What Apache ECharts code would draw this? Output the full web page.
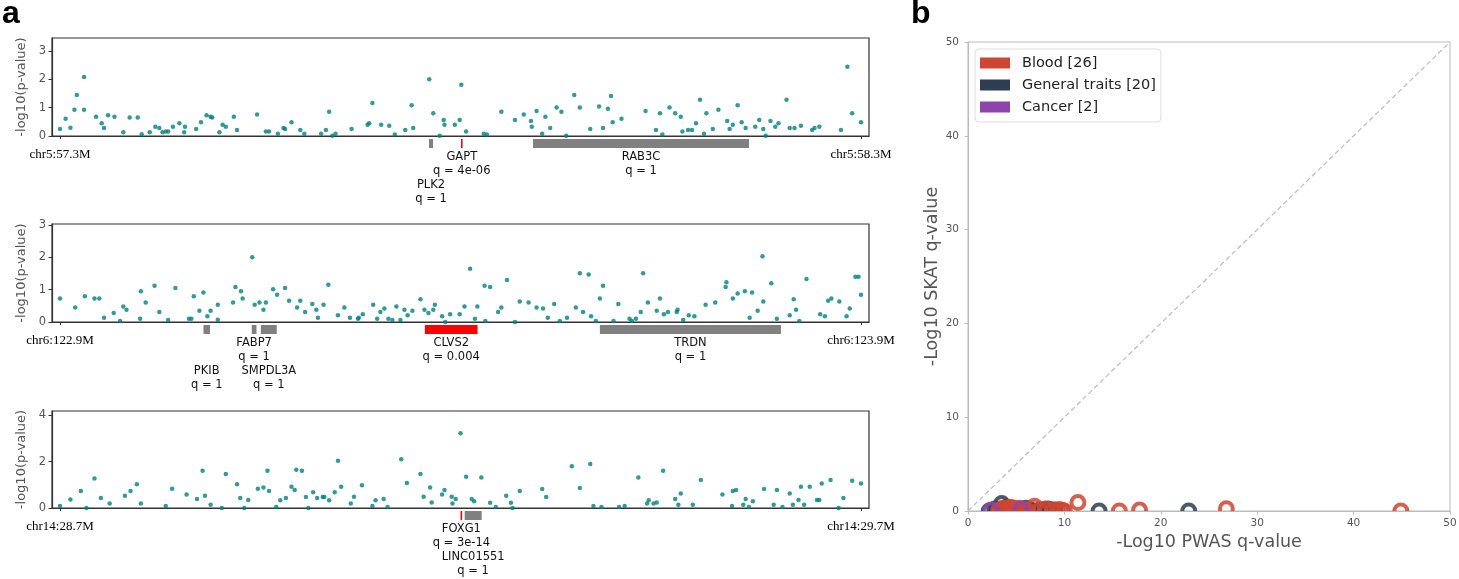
<!DOCTYPE html>
<html><head><meta charset="utf-8">
<script src="https://cdn.jsdelivr.net/npm/echarts@6/dist/echarts.min.js"></script>
<style>html,body{margin:0;padding:0;background:#fff}#c{width:1459px;height:579px}</style>
</head><body><div id="c"></div>
<script>
// ---------------- DATA ----------------
// Panel a: [genomic position (Mb), -log10(p)]
const chr5Points = [[57.300,0.25],[57.307,0.61],[57.313,0.29],[57.318,0.92],[57.321,1.44],[57.330,2.08],[57.330,0.92],[57.345,0.68],[57.352,0.45],[57.355,0.28],[57.360,0.73],[57.368,0.68],[57.379,0.13],[57.387,0.65],[57.397,0.65],[57.402,0.06],[57.412,0.13],[57.419,0.33],[57.424,0.28],[57.428,0.13],[57.432,0.16],[57.435,0.16],[57.441,0.33],[57.449,0.45],[57.455,0.13],[57.456,0.33],[57.470,0.25],[57.476,0.48],[57.483,0.73],[57.488,0.68],[57.490,0.65],[57.499,0.13],[57.503,0.40],[57.507,0.33],[57.517,0.68],[57.521,0.21],[57.546,0.76],[57.557,0.16],[57.561,0.16],[57.572,0.08],[57.579,0.28],[57.581,0.25],[57.589,0.48],[57.600,0.21],[57.605,0.08],[57.626,0.08],[57.632,0.21],[57.636,0.85],[57.640,0.01],[57.644,0.08],[57.664,0.25],[57.684,0.40],[57.686,0.45],[57.690,1.16],[57.701,0.40],[57.711,0.36],[57.718,0.05],[57.731,0.21],[57.739,1.08],[57.741,0.28],[57.761,2.00],[57.766,0.80],[57.774,0.01],[57.779,0.56],[57.780,0.40],[57.793,0.40],[57.799,0.56],
[57.801,1.80],[57.807,0.16],[57.829,0.08],[57.833,0.05],[57.851,0.85],[57.868,0.56],[57.879,0.76],[57.888,0.53],[57.889,0.33],[57.895,0.88],[57.902,0.08],[57.906,0.68],[57.912,0.28],[57.920,1.00],[57.926,0.85],[57.932,0.01],[57.942,1.44],[57.949,1.00],[57.962,0.25],[57.973,1.04],[57.978,0.28],[57.984,0.96],[57.988,1.41],[57.990,0.48],[58.001,0.61],[58.031,0.88],[58.044,0.21],[58.049,0.80],[58.052,0.05],[58.061,1.00],[58.068,0.80],[58.075,0.68],[58.077,0.16],[58.084,0.21],[58.089,0.21],[58.094,0.45],[58.099,1.28],[58.104,0.08],[58.107,0.80],[58.115,0.25],[58.122,0.92],[58.133,0.53],[58.136,0.25],[58.140,0.40],[58.146,1.08],[58.151,0.48],[58.156,0.28],[58.168,0.33],[58.173,0.56],[58.178,0.25],[58.181,0.01],[58.187,0.53],[58.193,0.33],[58.197,0.45],[58.207,1.28],[58.211,0.28],[58.217,0.28],[58.225,0.36],[58.239,0.21],[58.242,0.28],[58.248,0.33],[58.275,0.21],[58.283,2.44],[58.289,0.80],[58.300,0.48]];

const chr6Points = [[122.900,0.73],[122.919,0.45],[122.931,0.80],[122.943,0.73],[122.949,0.73],[122.955,0.13],[122.967,0.28],[122.975,0.03],[122.979,0.48],[122.983,0.38],[123.000,0.10],[123.001,0.95],[123.007,0.60],[123.018,1.12],[123.024,0.31],[123.035,0.06],[123.044,1.05],[123.061,0.10],[123.064,0.10],[123.067,0.80],[123.074,0.35],[123.079,0.91],[123.084,0.18],[123.088,0.35],[123.097,0.53],[123.097,0.07],[123.116,0.60],[123.119,1.08],[123.126,0.95],[123.128,0.73],[123.140,2.00],[123.143,0.53],[123.149,0.60],[123.154,0.38],[123.157,0.60],[123.166,1.01],[123.171,0.84],[123.181,1.05],[123.186,0.66],[123.196,0.45],[123.200,0.66],[123.206,0.31],[123.215,0.56],[123.220,0.38],[123.222,0.13],[123.229,0.53],[123.235,1.15],[123.247,0.21],[123.255,0.45],[123.262,0.13],[123.272,0.10],[123.273,0.13],[123.278,0.24],[123.291,0.53],[123.296,0.10],[123.300,0.31],[123.305,0.42],[123.310,0.10],[123.315,0.06],[123.320,0.48],[123.325,0.06],[123.330,0.38],[123.334,0.21],[123.340,0.35],[123.350,0.70],[123.355,0.38],[123.360,0.28],[123.366,0.38],[123.368,0.53],[123.377,0.18],[123.381,0.00],[123.387,0.24],[123.399,0.24],
[123.405,0.48],[123.412,1.65],[123.418,0.10],[123.421,0.48],[123.430,1.12],[123.431,0.03],[123.437,1.08],[123.447,0.31],[123.451,0.45],[123.458,1.30],[123.468,0.00],[123.474,0.63],[123.485,0.60],[123.495,0.45],[123.503,0.42],[123.509,0.13],[123.517,0.56],[123.524,0.03],[123.533,0.13],[123.544,0.45],[123.549,1.51],[123.553,0.31],[123.560,1.47],[123.563,0.18],[123.569,0.03],[123.574,0.73],[123.578,1.12],[123.591,0.03],[123.597,0.56],[123.611,0.10],[123.614,0.03],[123.619,0.10],[123.625,0.31],[123.628,1.51],[123.634,0.60],[123.645,0.35],[123.649,0.73],[123.654,0.24],[123.659,0.31],[123.670,0.31],[123.671,0.38],[123.678,0.06],[123.685,0.21],[123.692,0.18],[123.706,0.53],[123.718,0.60],[123.731,1.08],[123.732,1.23],[123.740,0.73],[123.746,0.88],[123.755,0.95],[123.761,0.13],[123.764,0.91],[123.771,0.35],[123.777,2.03],[123.778,0.63],[123.788,1.20],[123.795,0.10],[123.811,0.21],[123.816,0.70],[123.819,0.38],[123.823,0.03],[123.832,1.33],[123.849,0.24],[123.855,0.18],[123.859,0.66],[123.863,0.73],[123.873,0.63],[123.882,0.18],[123.886,0.42],[123.893,1.40],[123.897,1.40],[123.900,0.84]];

const chr14Points = [[28.700,0.09],[28.713,0.37],[28.726,0.73],[28.733,0.00],[28.743,1.27],[28.751,0.43],[28.762,0.19],[28.781,0.53],[28.788,0.73],[28.796,1.02],[28.801,0.19],[28.832,0.09],[28.840,0.83],[28.858,0.58],[28.871,0.39],[28.878,1.61],[28.881,0.53],[28.888,0.14],[28.902,0.00],[28.907,1.47],[28.921,1.02],[28.925,0.43],[28.930,0.00],[28.935,0.35],[28.947,0.83],[28.954,0.88],[28.959,1.61],[28.961,0.73],[28.970,0.04],[28.975,0.33],[28.982,0.43],[28.989,0.92],[28.993,0.78],[28.995,1.65],[29.002,1.61],[29.007,0.47],[29.010,0.00],[29.016,0.68],[29.021,0.43],[29.028,0.47],[29.030,0.47],[29.036,0.33],[29.043,0.68],[29.047,2.04],[29.051,0.92],[29.063,0.19],[29.067,0.49],[29.077,0.98],[29.090,0.09],[29.094,0.33],[29.104,0.39],[29.109,0.04],[29.126,2.10],[29.133,1.08],[29.150,1.47],[29.154,0.49],[29.162,0.88],[29.164,0.24],[29.177,0.58],[29.180,0.78],[29.189,0.49],[29.190,0.19],[29.194,0.39],
[29.200,3.22],[29.207,1.35],[29.214,0.39],[29.217,0.29],[29.226,1.31],[29.237,0.23],[29.244,0.04],[29.257,0.53],[29.263,0.23],[29.265,0.00],[29.274,0.73],[29.302,0.82],[29.307,0.47],[29.339,1.80],[29.349,0.86],[29.362,1.90],[29.366,0.09],[29.376,0.04],[29.398,0.04],[29.405,0.09],[29.422,1.31],[29.433,0.19],[29.435,0.33],[29.441,0.19],[29.445,0.24],[29.453,1.60],[29.468,0.39],[29.472,0.14],[29.475,0.63],[29.490,0.14],[29.500,1.21],[29.527,0.58],[29.539,0.09],[29.540,0.73],[29.544,0.78],[29.553,0.14],[29.556,0.39],[29.560,0.04],[29.565,0.29],[29.579,0.82],[29.591,0.14],[29.595,0.78],[29.602,0.04],[29.611,0.63],[29.615,0.14],[29.622,0.35],[29.625,0.92],[29.629,0.14],[29.636,0.92],[29.645,0.35],[29.648,0.35],[29.651,1.06],[29.662,1.21],[29.672,0.00],[29.678,0.43],[29.689,1.17],[29.700,1.06]];

// genes: start/end in Mb, q-value
const chr5Genes = [
  {name:'PLK2', start:57.7607, end:57.7657, q:1},
  {name:'GAPT', start:57.8010, end:57.8022, q:4e-6},
  {name:'RAB3C', start:57.8905, end:58.1602, q:1}
];
const chr6Genes = [
  {name:'PKIB', start:123.0791, end:123.0873, q:1},
  {name:'FABP7', start:123.1394, end:123.1453, q:1},
  {name:'SMPDL3A', start:123.1507, end:123.1706, q:1},
  {name:'CLVS2', start:123.3555, end:123.4213, q:0.004},
  {name:'TRDN', start:123.5740, end:123.8001, q:1}
];
const chr14Genes = [
  {name:'FOXG1', start:29.2002, end:29.2019, q:3e-14},
  {name:'LINC01551', start:29.2052, end:29.2264, q:1}
];

const chr5XTicks = [57.3, 58.3], chr5XLabels = ['chr5:57.3M', 'chr5:58.3M'];
const chr6XTicks = [122.9, 123.9], chr6XLabels = ['chr6:122.9M', 'chr6:123.9M'];
const chr14XTicks = [28.7, 29.7], chr14XLabels = ['chr14:28.7M', 'chr14:29.7M'];
const chr5YTicks = [0, 1, 2, 3];
const chr6YTicks = [0, 1, 2, 3];
const chr14YTicks = [0, 2, 4];

// Panel b: [-log10 PWAS q, -log10 SKAT q]
const bloodPts = [[3.2,0.1],[3.4,0.0],[3.6,0.3],[3.9,0.2],[4.1,0.0],[4.3,0.4],[4.5,0.1],[4.6,0.35],[4.8,0.2],[5.0,0.0],[5.3,0.3],[5.8,0.1],[6.2,0.0],[6.9,0.5],[7.4,0.1],[8.0,0.2],[8.8,0.1],[9.2,0.0],[9.5,0.15],[9.8,0.05],[10.0,0.0],[11.4,0.9],[15.7,0.0],[17.8,0.1],[26.8,0.25],[44.9,0.0]];
const generalPts = [[2.2,0.0],[2.8,0.2],[3.0,0.0],[3.5,0.8],[3.8,0.1],[4.0,0.4],[4.2,0.0],[4.7,0.05],[5.1,0.2],[5.5,0.0],[5.9,0.0],[6.0,0.3],[6.5,0.1],[7.2,0.0],[7.8,0.1],[8.3,0.2],[8.6,0.0],[9.0,0.1],[13.6,0.0],[22.9,0.0]];
const cancerPts = [[2.4,0.1],[5.5,0.2]];
const diagonal = [[0,0],[50,50]];

// ---------------- STYLE / LAYOUT ----------------
const labelRow = {PLK2:1, PKIB:1, SMPDL3A:1, LINC01551:1};
const colBlood = '#cf4533', colGeneral = '#2c3e50', colCancer = '#8e44ad';

function fmtQ(q){
  if (q >= 0.001) return String(q);
  const parts = q.toExponential(0).split('e');
  const n = parseInt(parts[1], 10);
  return parts[0] + 'e' + (n < 0 ? '-' : '+') + String(Math.abs(n)).padStart(2, '0');
}
function nearestLabel(v, ticks, labels){
  let bi = 0;
  ticks.forEach((t, i) => { if (Math.abs(t - v) < Math.abs(ticks[bi] - v)) bi = i; });
  return labels[bi];
}

const grids = [
  {left:52, top:38, width:817, height:98},
  {left:52, top:224, width:817, height:98},
  {left:52, top:411, width:817, height:97}
];
const regions = [
  {pts:chr5Points, genes:chr5Genes, xt:chr5XTicks, xl:chr5XLabels, yt:chr5YTicks, xmin:57.29, xmax:58.31, ymax:3.45},
  {pts:chr6Points, genes:chr6Genes, xt:chr6XTicks, xl:chr6XLabels, yt:chr6YTicks, xmin:122.89, xmax:123.91, ymax:3.03},
  {pts:chr14Points, genes:chr14Genes, xt:chr14XTicks, xl:chr14XLabels, yt:chr14YTicks, xmin:28.69, xmax:29.71, ymax:4.18}
];

const gridOpt = [], xAxes = [], yAxes = [], series = [];
regions.forEach((r, i) => {
  gridOpt.push(Object.assign({show:true, borderColor:'#333', borderWidth:1.2, backgroundColor:'#fff', outerBoundsMode:'none', containLabel:false}, grids[i]));
  xAxes.push({gridIndex:i, type:'value', min:r.xmin, max:r.xmax,
    axisLine:{show:true, onZero:false, lineStyle:{color:'#333', width:1.2}},
    axisTick:{show:true, customValues:r.xt, length:3, lineStyle:{color:'#333'}},
    axisLabel:{show:true, customValues:r.xt, margin:12, fontFamily:'Liberation Serif', fontSize:13, color:'#000',
      formatter:(v) => nearestLabel(v, r.xt, r.xl)},
    splitLine:{show:false}});
  yAxes.push({gridIndex:i, type:'value', min:0, max:r.ymax,
    name:'-log10(p-value)', nameLocation:'middle', nameGap:21,
    nameTextStyle:{fontFamily:'DejaVu Sans', fontSize:13, color:'#555'},
    axisLine:{show:true, lineStyle:{color:'#333', width:1.2}},
    axisTick:{show:true, customValues:r.yt, length:3.5, lineStyle:{color:'#333'}},
    axisLabel:{show:true, customValues:r.yt, margin:6, fontFamily:'DejaVu Sans', fontSize:11.5, color:'#555',
      formatter:(v) => (Math.abs(v - Math.round(v)) < 1e-6 ? String(Math.round(v)) : '')},
    splitLine:{show:false}});
  series.push({type:'scatter', xAxisIndex:i, yAxisIndex:i, data:r.pts, symbolSize:4.5, silent:true,
    itemStyle:{color:'#008080'}, z:2});
  const genes = r.genes;
  series.push({type:'custom', xAxisIndex:i, yAxisIndex:i, clip:false, silent:true, z:3,
    data: genes.map(g => [g.start, g.end, g.q]),
    renderItem(params, api){
      const g = genes[params.dataIndex];
      const a = api.coord([api.value(0), 0]);
      const b = api.coord([api.value(1), 0]);
      let x = a[0], w = b[0] - a[0];
      if (w < 1.6) { x = (a[0] + b[0]) / 2 - 0.8; w = 1.6; }
      const sig = g.q < 0.05;
      const row = labelRow[g.name] || 0;
      const cx = (a[0] + b[0]) / 2;
      return {type:'group', children:[
        {type:'rect', shape:{x:x, y:a[1] + 3, width:w, height:9}, style:{fill: sig ? '#ff0000' : '#808080'}},
        {type:'text', style:{text:g.name + '\nq = ' + fmtQ(g.q), x:cx, y:a[1] + 28 + row * 28,
          align:'center', verticalAlign:'middle', textAlign:'center', textVerticalAlign:'middle',
          fontFamily:'DejaVu Sans', fontSize:11.5, lineHeight:14, fill:'#111'}}
      ]};
    }});
});

// Panel b
gridOpt.push({left:968, top:42, width:482, height:469, show:true, borderColor:'#bbb', borderWidth:1, outerBoundsMode:'none', containLabel:false});
xAxes.push({gridIndex:3, type:'value', min:0, max:50, interval:10, z:10,
  name:'-Log10 PWAS q-value', nameLocation:'middle', nameGap:19,
  nameTextStyle:{fontFamily:'DejaVu Sans', fontSize:17.5, color:'#555'},
  axisLine:{show:true, onZero:false, lineStyle:{color:'#bbb', width:1.2}},
  axisTick:{show:true, length:3.5, lineStyle:{color:'#bbb'}},
  axisLabel:{margin:7, fontFamily:'DejaVu Sans', fontSize:10.5, color:'#555'},
  splitLine:{show:false}});
yAxes.push({gridIndex:3, type:'value', min:0, max:50, interval:10, z:10,
  name:'-Log10 SKAT q-value', nameLocation:'middle', nameGap:25,
  nameTextStyle:{fontFamily:'DejaVu Sans', fontSize:17.5, color:'#555'},
  axisLine:{show:true, onZero:false, lineStyle:{color:'#bbb', width:1.2}},
  axisTick:{show:true, length:3.5, lineStyle:{color:'#bbb'}},
  axisLabel:{margin:9, fontFamily:'DejaVu Sans', fontSize:10.5, color:'#555'},
  splitLine:{show:false}});

series.push({type:'line', xAxisIndex:3, yAxisIndex:3, data:diagonal, symbol:'none', silent:true, z:1,
  lineStyle:{color:'#bbb', width:1.2, type:[5, 3]}});
const ringSeries = [
  {name:'General traits [' + generalPts.length + ']', data:generalPts, color:colGeneral},
  {name:'Blood [' + bloodPts.length + ']', data:bloodPts, color:colBlood},
  {name:'Cancer [' + cancerPts.length + ']', data:cancerPts, color:colCancer}
];
ringSeries.forEach(s => {
  series.push({type:'scatter', name:s.name, xAxisIndex:3, yAxisIndex:3, data:s.data, symbol:'circle', symbolSize:13,
    silent:true, z:2, itemStyle:{color:'rgba(0,0,0,0)', borderColor:s.color, borderWidth:4, opacity:0.85}});
});
const legendOrder = [ringSeries[1], ringSeries[0], ringSeries[2]];

const chart = echarts.init(document.getElementById('c'), null, {renderer:'canvas'});
chart.setOption({
  animation:false,
  backgroundColor:'#fff',
  grid:gridOpt, xAxis:xAxes, yAxis:yAxes, series:series,
  legend:{left:975, top:49, orient:'vertical', icon:'rect', itemWidth:30, itemHeight:11, itemGap:4,
    padding:[5, 5, 6, 5], backgroundColor:'#fff', borderColor:'#ddd', borderWidth:1, borderRadius:4,
    selectedMode:false,
    textStyle:{fontFamily:'DejaVu Sans', fontSize:14.5, color:'#222', padding:[0, 0, 0, 7], lineHeight:18},
    data: legendOrder.map(s => ({name:s.name, itemStyle:{color:s.color, borderWidth:0, opacity:1}}))},
  graphic:[
    {type:'text', left:2, top:-2, z:20, style:{text:'a', font:'bold 32px "Liberation Sans"', fill:'#000'}},
    {type:'text', left:911, top:-2, z:20, style:{text:'b', font:'bold 32px "Liberation Sans"', fill:'#000'}},
    {type:'rect', z:5, shape:{x:969, y:512, width:480, height:9}, style:{fill:'#fff'}}
  ]
});
</script></body></html>
